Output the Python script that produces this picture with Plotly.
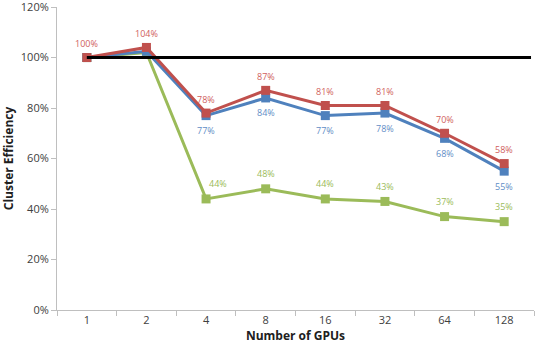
import plotly.graph_objects as go

gpus = ["1", "2", "4", "8", "16", "32", "64", "128"]
blue_vals = [100, 102.5, 77, 84, 77, 78, 68, 55]
red_vals = [100, 104, 78, 87, 81, 81, 70, 58]
green_vals = [100, 102, 44, 48, 44, 43, 37, 35]
blue_labels = ["", "", "77%", "84%", "77%", "78%", "68%", "55%"]
red_labels = ["100%", "104%", "78%", "87%", "81%", "81%", "70%", "58%"]
green_labels = ["", "", "44%", "48%", "44%", "43%", "37%", "35%"]
ref_level = 100
yticks = [0, 20, 40, 60, 80, 100, 120]

BLUE = "#4F81BD"
RED = "#C0504D"
GREEN = "#9BBB59"
FONT = "Open Sans"

fig = go.Figure()

for vals, color in [(green_vals, GREEN), (blue_vals, BLUE), (red_vals, RED)]:
    fig.add_trace(go.Scatter(
        x=gpus, y=vals, mode="lines+markers",
        line=dict(color=color, width=3),
        marker=dict(symbol="square", size=9, color=color),
        hoverinfo="x+y"))

fig.add_shape(type="line", xref="x", yref="y", x0=0, x1=7.45, y0=ref_level, y1=ref_level,
              line=dict(color="black", width=3), layer="above")

def add_labels(vals, labels, color, yshift, xshifts=None):
    # annotations on a category axis are positioned by category index
    for i, (v, t) in enumerate(zip(vals, labels)):
        if not t:
            continue
        xs = xshifts[i] if xshifts else 0
        fig.add_annotation(x=i, y=v, xref="x", yref="y", text=t, showarrow=False,
                           yshift=yshift, xshift=xs,
                           font=dict(color=color, size=9, family=FONT))

add_labels(red_vals, red_labels, "#D0605D", 14)
add_labels(blue_vals, blue_labels, "#5F8DC6", -15)
add_labels(green_vals, green_labels, "#9BBB59", 15, [0, 0, 12, 0, 0, 0, 0, 0])

fig.update_layout(
    width=555, height=364,
    margin=dict(l=57, r=21, t=7, b=54),
    paper_bgcolor="white", plot_bgcolor="white",
    showlegend=False,
    font=dict(family=FONT, size=11, color="#404040"),
)
fig.update_xaxes(
    type="category", categoryorder="array", categoryarray=gpus,
    range=[-0.5, 7.5], automargin=False,
    showline=True, linecolor="#BFBFBF", linewidth=1,
    ticks="outside", tickson="boundaries", ticklen=5, tickcolor="#BFBFBF",
    showgrid=False, tickfont=dict(size=11, family=FONT, color="#404040"),
    title=dict(text="<b>Number of GPUs</b>", font=dict(size=12, family=FONT, color="#202020"), standoff=4),
)
fig.update_yaxes(
    range=[0, 120.02], tickvals=yticks, ticktext=[f"{v}%" for v in yticks],
    automargin=False, ticklabeloverflow="allow",
    showline=True, linecolor="#BFBFBF", linewidth=1,
    ticks="outside", ticklen=5, tickcolor="#BFBFBF",
    showgrid=False, zeroline=False, tickfont=dict(size=11, family=FONT, color="#404040"),
    title=dict(text="<b>Cluster Efficiency</b>", font=dict(size=12, family=FONT, color="#202020"), standoff=8),
)

fig.write_html("out.html")
